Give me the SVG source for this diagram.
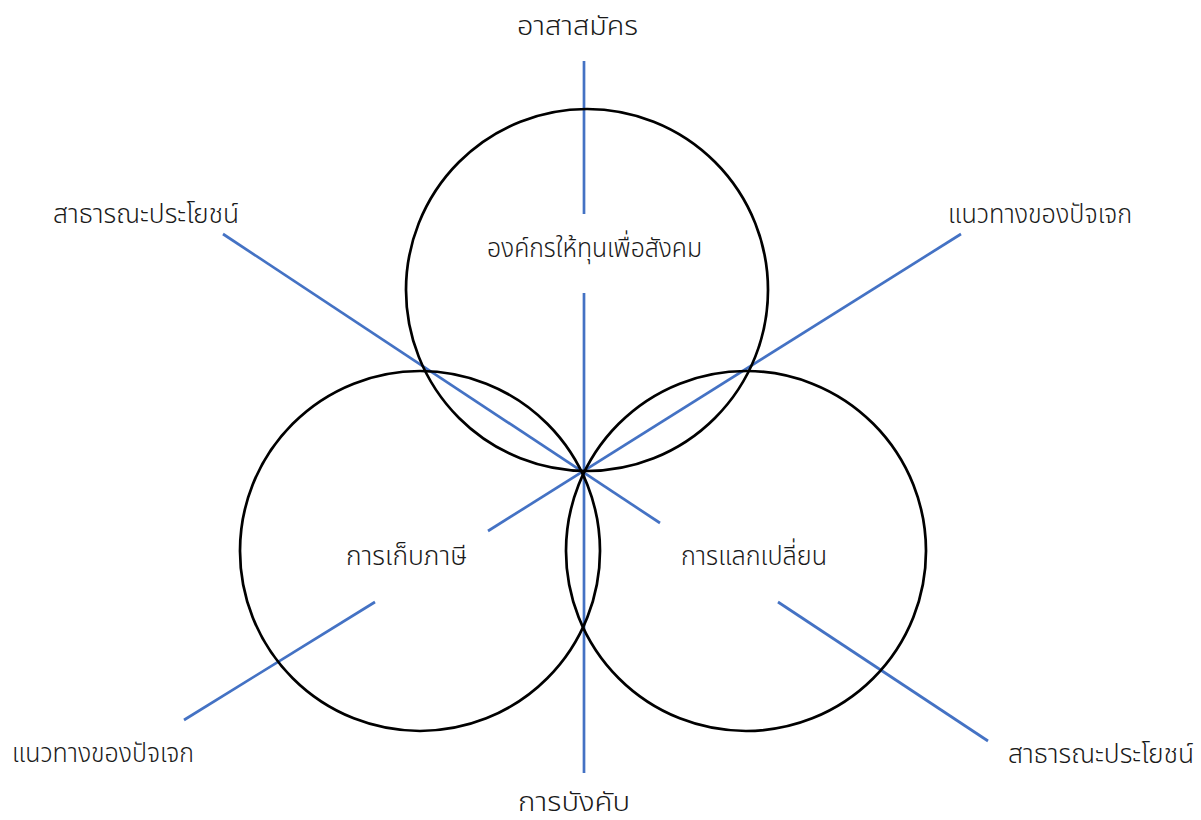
<svg xmlns="http://www.w3.org/2000/svg" width="1201" height="820" viewBox="0 0 1201 820">
<style>
.c{fill:none;stroke:#000;stroke-width:2.7}
.l{stroke:#4472C4;stroke-width:2.7;fill:none}
text{font-family:"Noto Sans Thai","Leelawadee UI",Tahoma,"DejaVu Sans","Noto Sans",sans-serif;font-size:27px;font-weight:300;fill:#1a1a1a}
</style>
<rect width="1201" height="820" fill="#fff"/>
<g id="connectors">
<line class="l" x1="584" y1="61" x2="584" y2="214"/>
<line class="l" x1="584" y1="293" x2="584" y2="773"/>
<line class="l" x1="223" y1="234" x2="660" y2="523"/>
<line class="l" x1="961" y1="234" x2="488" y2="531"/>
<line class="l" x1="375" y1="602" x2="184" y2="720"/>
<line class="l" x1="778" y1="602" x2="988" y2="741"/>
</g>
<g id="node-top"><circle class="c" cx="587" cy="290" r="181"/><text x="594.5" y="257" text-anchor="middle" textLength="215" lengthAdjust="spacingAndGlyphs">องค์กรให้ทุนเพื่อสังคม</text></g>
<g id="node-left"><circle class="c" cx="420" cy="551" r="180"/><text x="406.5" y="565" text-anchor="middle" textLength="121" lengthAdjust="spacingAndGlyphs">การเก็บภาษี</text></g>
<g id="node-right"><circle class="c" cx="746" cy="551" r="180"/><text x="754" y="565" text-anchor="middle" textLength="146" lengthAdjust="spacingAndGlyphs">การแลกเปลี่ยน</text></g>
<g id="label-top"><text x="577.5" y="35" text-anchor="middle" textLength="121" lengthAdjust="spacingAndGlyphs">อาสาสมัคร</text></g>
<g id="label-tl"><text x="146" y="223" text-anchor="middle" textLength="186" lengthAdjust="spacingAndGlyphs">สาธารณะประโยชน์</text></g>
<g id="label-tr"><text x="1040" y="223" text-anchor="middle" textLength="184" lengthAdjust="spacingAndGlyphs">แนวทางของปัจเจก</text></g>
<g id="label-bl"><text x="103" y="762" text-anchor="middle" textLength="182" lengthAdjust="spacingAndGlyphs">แนวทางของปัจเจก</text></g>
<g id="label-br"><text x="1101" y="763" text-anchor="middle" textLength="186" lengthAdjust="spacingAndGlyphs">สาธารณะประโยชน์</text></g>
<g id="label-bottom"><text x="574" y="811" text-anchor="middle" textLength="112" lengthAdjust="spacingAndGlyphs">การบังคับ</text></g>
</svg>
